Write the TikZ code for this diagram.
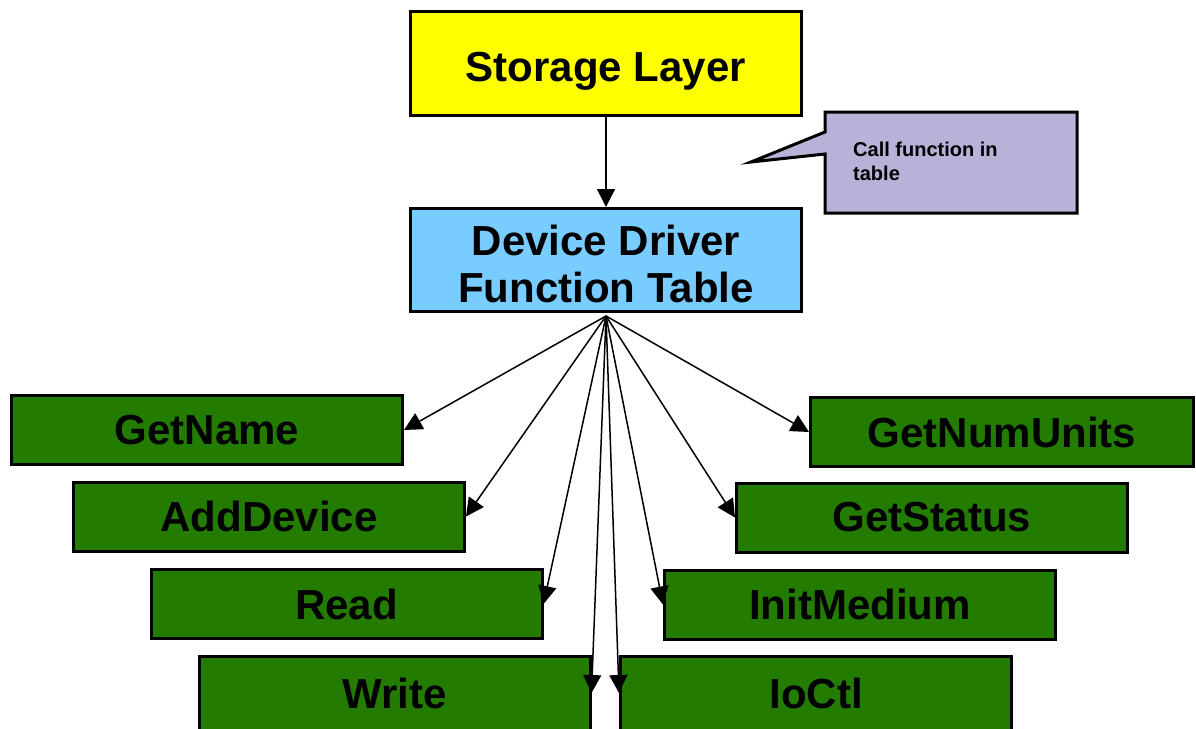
\documentclass[tikz,border=0pt]{standalone}
\usepackage{fontspec}
\setmainfont{Liberation Sans}
\usetikzlibrary{arrows.meta}
\definecolor{storeyel}{HTML}{FFFF00}
\definecolor{tblblue}{HTML}{79CCFF}
\definecolor{fngreen}{HTML}{237C00}
\definecolor{notepurple}{HTML}{B9B1D7}
\tikzset{
  bigfont/.style={font=\fontsize{42}{47}\selectfont\bfseries, align=center},
  bigbox/.style={draw=black, line width=3pt, minimum width=391pt, inner sep=0pt, bigfont},
  fnbox/.style={bigbox, fill=fngreen, minimum height=69pt},
  conn/.style={line width=1.5pt, -{Triangle[length=18pt,width=18pt]}},
  notetext/.style={font=\fontsize{20}{24}\selectfont\bfseries, align=left, inner sep=0pt}
}
\begin{document}
\begin{tikzpicture}[x=1pt,y=-1pt]
\path[use as bounding box, clip] (0,0) rectangle (1196,728);
\fill[white] (0,0) rectangle (1196,728);
% top boxes
\node[bigbox, fill=storeyel, minimum height=104pt, text height=35pt, text depth=0pt] (storage) at (606,63.5) {Storage Layer};
\node[bigbox, fill=tblblue, minimum height=103pt] (table) at (606,260) {};
\node[bigfont, inner sep=0pt] (tabletxt) at (606,263.5) {Device Driver\\Function Table};
% callout
\draw[line width=3pt, fill=notepurple, line join=miter]
  (825,112) -- (1077,112) -- (1077,213) -- (825,213) -- (825,154) -- (751,162) -- (825,132) -- cycle;
\node[notetext, anchor=north west] (note) at (853,142) {Call function in\\table};
% function boxes
\node[fnbox] (getname) at (207,430) {GetName};
\node[fnbox] (adddev) at (269,516.5) {AddDevice};
\node[fnbox] (read) at (346.5,604) {Read};
\node[fnbox, minimum height=74pt] (write) at (394.5,693) {Write};
\node[fnbox, minimum width=383pt] (numunits) at (1002,432) {GetNumUnits};
\node[fnbox] (status) at (932,517.5) {GetStatus};
\node[fnbox] (initmed) at (860,604.5) {InitMedium};
\node[fnbox, minimum height=74pt] (ioctl) at (816,693) {IoCtl};
% connectors
\draw[conn] (storage.south) -- (table.north);
\coordinate (hub) at (606,316);
\draw[conn] (hub) -- (getname.east);
\draw[conn] (hub) -- (adddev.east);
\draw[conn] (hub) -- (read.east);
\draw[conn] (hub) -- (write.east);
\draw[conn] (hub) -- (ioctl.west);
\draw[conn] (hub) -- (initmed.west);
\draw[conn] (hub) -- (status.west);
\draw[conn] (hub) -- (numunits.west);
\end{tikzpicture}
\end{document}
